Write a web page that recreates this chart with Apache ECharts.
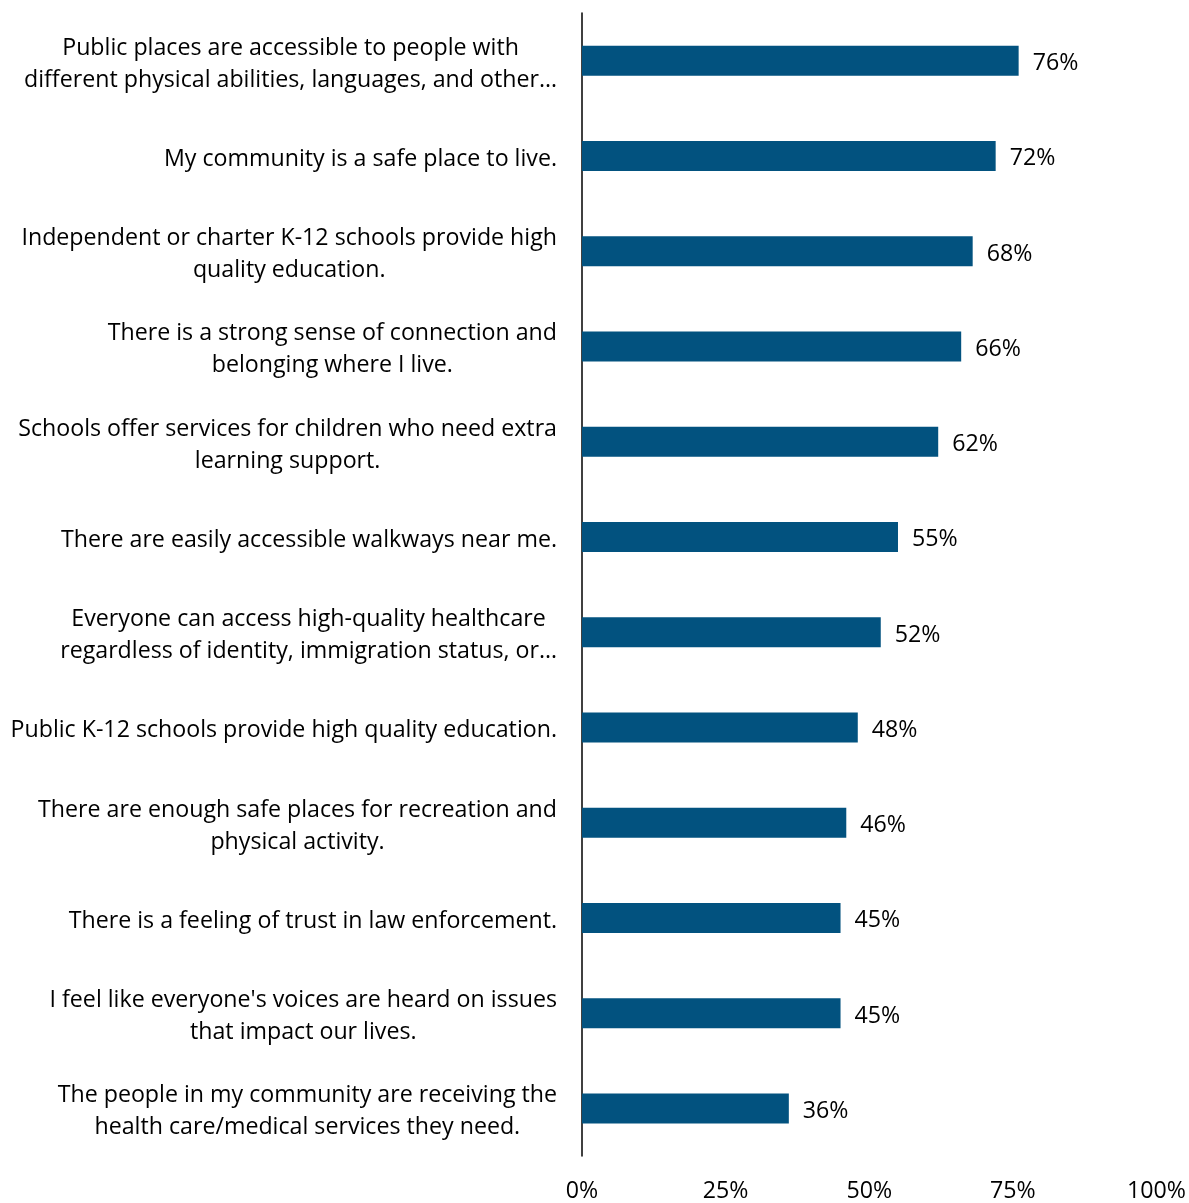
<!DOCTYPE html>
<html>
<head>
<meta charset="utf-8">
<title>Community perceptions</title>
<script src="https://cdn.jsdelivr.net/npm/echarts@6/dist/echarts.min.js"></script>
<style>
  html, body { margin: 0; padding: 0; background: #ffffff; }
  #chart { width: 1189px; height: 1203px; }
</style>
</head>
<body>
<div id="chart"></div>
<script>
// Statements, top to bottom
const categories = [
  "Public places are accessible to people with\ndifferent physical abilities, languages, and other…",
  "My community is a safe place to live.",
  "Independent or charter K-12 schools provide high\nquality education.",
  "There is a strong sense of connection and\nbelonging where I live.",
  "Schools offer services for children who need extra\nlearning support.",
  "There are easily accessible walkways near me.",
  "Everyone can access high-quality healthcare\nregardless of identity, immigration status, or…",
  "Public K-12 schools provide high quality education.",
  "There are enough safe places for recreation and\nphysical activity.",
  "There is a feeling of trust in law enforcement.",
  "I feel like everyone's voices are heard on issues\nthat impact our lives.",
  "The people in my community are receiving the\nhealth care/medical services they need."
];

// Share of respondents who agree (%)
const agreePct = [76, 72, 68, 66, 62, 55, 52, 48, 46, 45, 45, 36];

// Value axis ticks (%)
const tickValues = [0, 25, 50, 75, 100];

const FONT = "Open Sans";
const FONT_SIZE = 23.2;

const chart = echarts.init(document.getElementById('chart'), null, { renderer: 'canvas' });

chart.setOption({
  animation: false,
  backgroundColor: '#ffffff',
  grid: { left: 582, right: 32, top: 13, bottom: 44, containLabel: false },
  xAxis: {
    type: 'value',
    min: tickValues[0],
    max: tickValues[tickValues.length - 1],
    interval: 25,
    axisLine: { show: false },
    axisTick: { show: false },
    splitLine: { show: false },
    axisLabel: {
      margin: 24,
      color: '#000000',
      fontFamily: FONT,
      fontSize: FONT_SIZE,
      formatter: v => v + '%'
    }
  },
  yAxis: {
    type: 'category',
    inverse: true,
    data: categories,
    axisLine: { show: true, lineStyle: { color: '#000000', width: 1.5 } },
    axisTick: { show: false },
    splitLine: { show: false },
    axisLabel: {
      margin: 25,
      padding: [7, 0, 0, 0],
      color: '#000000',
      fontFamily: FONT,
      fontSize: FONT_SIZE,
      lineHeight: 32,
      align: 'right',
      // block sits right-aligned against the axis, lines are centred inside it
      formatter: v => v.split('\n').map(line => '{c|' + line + '}').join('\n'),
      rich: {
        c: {
          align: 'center',
          color: '#000000',
          fontFamily: FONT,
          fontSize: FONT_SIZE,
          lineHeight: 32
        }
      }
    }
  },
  series: [{
    type: 'bar',
    data: agreePct,
    barWidth: 30,
    itemStyle: { color: '#02527f' },
    label: {
      show: true,
      position: 'right',
      distance: 14,
      offset: [0, 3],
      color: '#000000',
      fontFamily: FONT,
      fontSize: FONT_SIZE,
      formatter: p => p.value + '%'
    }
  }]
});
</script>
</body>
</html>
